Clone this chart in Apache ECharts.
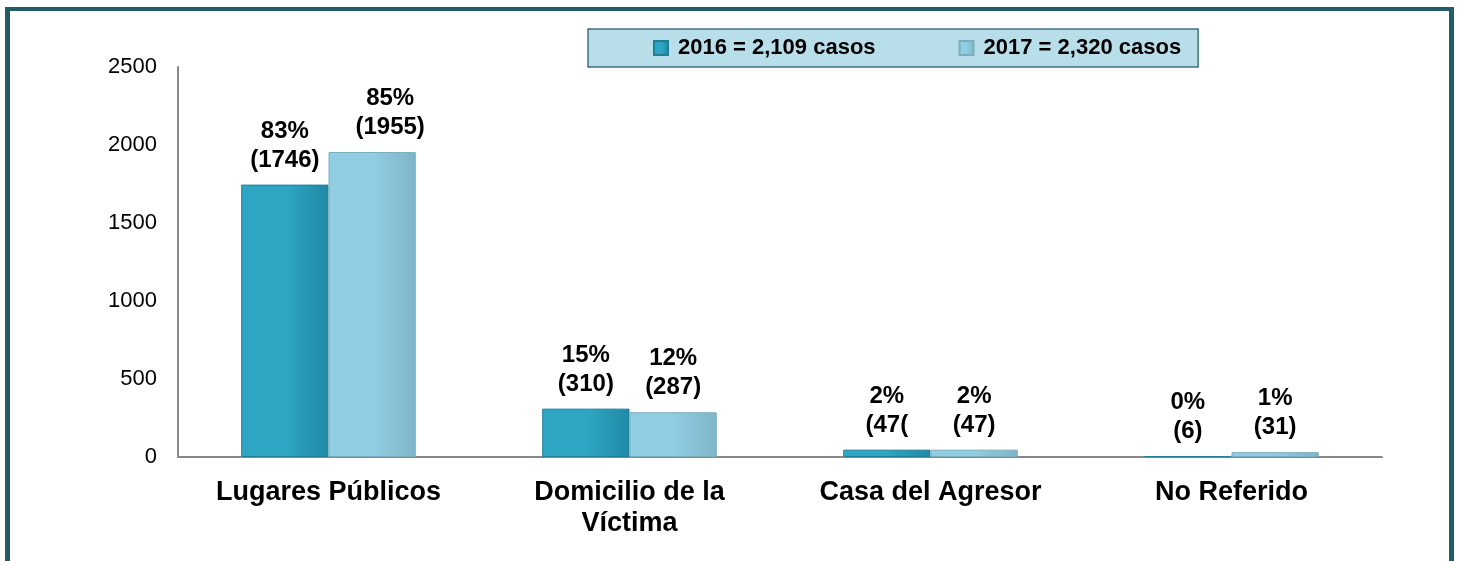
<!DOCTYPE html>
<html>
<head>
<meta charset="utf-8">
<script src="https://cdn.jsdelivr.net/npm/echarts@6/dist/echarts.min.js"></script>
<style>
    html, body { margin: 0; padding: 0; background: #fff; }
    #wrap { position: relative; width: 1457px; height: 561px; overflow: hidden; }
    #chart { width: 1457px; height: 561px; }
    /* marco de la diapositiva */
    .frame {
        position: absolute; left: 5px; top: 7px; width: 1439px; height: 600px;
        border-left: 5px solid #225c68; border-top: 4px solid #225c68; border-right: 5px solid #225c68;
        pointer-events: none;
    }
</style>
</head>
<body>
<div id="wrap">
    <div id="chart"></div>
    <div class="frame"></div>
</div>
<script>
    // datos
    var categorias = ['Lugares Públicos', 'Domicilio de la\nVíctima', 'Casa del Agresor', 'No Referido'];
    var nombres = ['2016 = 2,109 casos', '2017 = 2,320 casos'];
    var valores2016 = [1746, 310, 47, 6];
    var valores2017 = [1955, 287, 47, 31];
    var porc2016 = ['83%', '15%', '2%', '0%'];
    var porc2017 = ['85%', '12%', '2%', '1%'];
    var etiq2016 = ['(1746)', '(310)', '(47(', '(6)'];
    var etiq2017 = ['(1955)', '(287)', '(47)', '(31)'];
    var yTicks = [0, 500, 1000, 1500, 2000, 2500];

    var chart = echarts.init(document.getElementById('chart'));

    var grad = function (c1, c2) {
        return new echarts.graphic.LinearGradient(0, 0, 1, 0, [
            { offset: 0, color: c1 },
            { offset: 0.5, color: c1 },
            { offset: 1, color: c2 }
        ]);
    };

    var labelBase = {
        show: true,
        position: 'top',
        distance: 10,
        color: '#000',
        fontFamily: 'Liberation Sans, Arial, sans-serif',
        fontWeight: 'bold',
        fontSize: 24,
        lineHeight: 29
    };

    function buildData(vals, porc, etiq, offsets) {
        return vals.map(function (v, i) {
            var lbl = { formatter: porc[i] + '\n' + etiq[i] };
            if (offsets && offsets[i]) lbl.offset = offsets[i];
            return { value: v, label: lbl };
        });
    }

    var option = {
        backgroundColor: '#fff',
        animation: false,
        grid: { left: 178, right: 75, top: 67, bottom: 104 },
        legend: {
            left: 588,
            top: 29,
            padding: [8, 17, 8, 65],
            itemGap: 83,
            itemWidth: 14,
            itemHeight: 14,
            icon: 'rect',
            backgroundColor: '#b8dee9',
            borderColor: '#3f7080',
            borderWidth: 1.5,
            textStyle: {
                color: '#000',
                fontFamily: 'Liberation Sans, Arial, sans-serif',
                fontWeight: 'bold',
                fontSize: 22,
                padding: [0, 0, 0, 5]
            },
            data: nombres
        },
        xAxis: {
            type: 'category',
            data: categorias,
            axisLine: { lineStyle: { color: '#888', width: 2 } },
            axisTick: { show: false },
            axisLabel: {
                color: '#000',
                fontFamily: 'Liberation Sans, Arial, sans-serif',
                fontWeight: 'bold',
                fontSize: 27,
                lineHeight: 31,
                margin: 20,
                interval: 0
            }
        },
        yAxis: {
            type: 'value',
            min: yTicks[0],
            max: yTicks[yTicks.length - 1],
            interval: 500,
            axisLine: { show: true, lineStyle: { color: '#888', width: 2 } },
            axisTick: { show: false },
            splitLine: { show: false },
            axisLabel: {
                color: '#000',
                fontFamily: 'Liberation Sans, Arial, sans-serif',
                fontSize: 22,
                margin: 21,
                formatter: function (v) { return String(v); }
            }
        },
        series: [
            {
                name: nombres[0],
                type: 'bar',
                barGap: '0%',
                barCategoryGap: '42%',
                itemStyle: {
                    color: grad('#2ea6c3', '#1f8aa6'),
                    borderColor: '#1d7f98',
                    borderWidth: 1
                },
                label: labelBase,
                data: buildData(valores2016, porc2016, etiq2016)
            },
            {
                name: nombres[1],
                type: 'bar',
                itemStyle: {
                    color: grad('#91cde3', '#7fb4c7'),
                    borderColor: '#7aaebf',
                    borderWidth: 1
                },
                label: labelBase,
                data: buildData(valores2017, porc2017, etiq2017, [[18, 0]])
            }
        ]
    };

    chart.setOption(option);
</script>
</body>
</html>
